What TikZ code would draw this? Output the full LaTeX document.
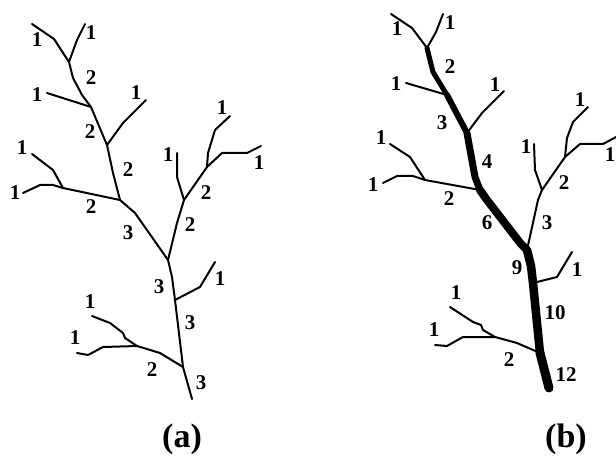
\documentclass[tikz,border=0pt]{standalone}
\usepackage{fontspec}
\setmainfont{Liberation Serif}
\begin{document}
\begin{tikzpicture}[x=1pt,y=-1pt,
  br/.style={line width=2pt,line join=round,line cap=round},
  thk/.style={line cap=round,line join=round},
  num/.style={font=\fontsize{21}{21}\selectfont\bfseries,inner sep=0pt},
  captxt/.style={font=\fontsize{34}{34}\selectfont\bfseries,inner sep=0pt}]
\useasboundingbox (0,0) rectangle (616,465);
% ---------- tree (a) ----------
\coordinate (aT) at (69,62);
\coordinate (aJ1) at (91,107);
\coordinate (aJ2) at (107,145);
\coordinate (aJ3) at (120,200);
\coordinate (aJ4) at (168,260);
\coordinate (aJ5) at (175,300);
\coordinate (aJ6) at (183,367);
\coordinate (aR) at (184,200);
\draw[br] (32,24) -- (54,39) -- (aT);
\draw[br] (85,24) -- (77,40) -- (aT);
\draw[br] (aT) -- (73,78) -- (82,95) -- (aJ1) -- (aJ2) -- (113,173) -- (aJ3) -- (135,213) -- (aJ4) -- (172,277) -- (aJ5) -- (aJ6) -- (192,399);
\draw[br] (47,93) -- (aJ1);
\draw[br] (146,100) -- (123,123) -- (aJ2);
\draw[br] (32,154) -- (53,170) -- (63,188) -- (aJ3);
\draw[br] (23,193) -- (40,185) -- (53,185) -- (63,188);
\draw[br] (177,153) -- (177,177) -- (aR);
\draw[br] (aR) -- (207,167) -- (222,153) -- (247,153) -- (261,146);
\draw[br] (207,167) -- (208,153) -- (215,130) -- (230,116);
\draw[br] (aR) -- (177,223) -- (aJ4);
\draw[br] (aJ5) -- (200,287) -- (215,262);
\draw[br] (92,316) -- (110,323) -- (123,333) -- (125,338) -- (137,346) -- (160,353) -- (aJ6);
\draw[br] (77,353) -- (88,355) -- (103,347) -- (137,346);
\node[num] (a01) at (37,40) {1};
\node[num] (a02) at (91,33) {1};
\node[num] (a03) at (91,78) {2};
\node[num] (a04) at (37,95) {1};
\node[num] (a05) at (136,93) {1};
\node[num] (a06) at (90,132) {2};
\node[num] (a07) at (22,148) {1};
\node[num] (a08) at (128,170) {2};
\node[num] (a09) at (15,193) {1};
\node[num] (a10) at (91,207) {2};
\node[num] (a11) at (128,233) {3};
\node[num] (a12) at (222,108) {1};
\node[num] (a13) at (168,155) {1};
\node[num] (a14) at (259,163) {1};
\node[num] (a15) at (206,193) {2};
\node[num] (a16) at (190,225) {2};
\node[num] (a17) at (159,287) {3};
\node[num] (a18) at (220,279) {1};
\node[num] (a19) at (190,323) {3};
\node[num] (a20) at (90,302) {1};
\node[num] (a21) at (75,338) {1};
\node[num] (a22) at (152,370) {2};
\node[num] (a23) at (201,383) {3};
\node[captxt] (capa) at (182,439) {(a)};
% ---------- tree (b) ----------
\coordinate (bT) at (427,48);
\coordinate (bJ1) at (447,95);
\coordinate (bJ2) at (467,133);
\coordinate (bJ3) at (480,190);
\coordinate (bJ4) at (527,250);
\coordinate (bJ5) at (533,283);
\coordinate (bJ6) at (540,353);
\coordinate (bR) at (542,190);
\draw[br] (391,14) -- (412,28) -- (bT);
\draw[br] (443,14) -- (436,32) -- (bT);
\draw[br] (406,83) -- (bJ1);
\draw[br] (504,91) -- (482,113) -- (bJ2);
\draw[br] (390,144) -- (410,157) -- (425,180) -- (bJ3);
\draw[br] (383,183) -- (397,176) -- (413,176) -- (425,180);
\draw[br] (534,144) -- (535,170) -- (bR);
\draw[br] (bR) -- (565,157) -- (580,144) -- (603,144) -- (618,136);
\draw[br] (565,157) -- (567,138) -- (573,122) -- (588,107);
\draw[br] (bR) -- (538,200) -- (bJ4);
\draw[br] (bJ5) -- (557,277) -- (572,252);
\draw[br] (450,307) -- (473,322) -- (481,325) -- (483,330) -- (495,337) -- (517,343) -- (bJ6);
\draw[br] (435,345) -- (447,346) -- (463,337) -- (495,337);
\draw[thk,line width=5pt] (bT) -- (433,72) -- (bJ1);
\draw[thk,line width=6pt] (bJ1) -- (bJ2);
\draw[thk,line width=7pt] (bJ2) -- (475,177) -- (bJ3);
\draw[thk,line width=8pt] (bJ3) -- (487,200) -- (521,244) -- (bJ4);
\draw[thk,line width=8.5pt] (bJ4) -- (531,266) -- (bJ5) -- (bJ6);
\draw[thk,line width=9pt] (bJ6) -- (549,388);
\node[num] (b01) at (397,29) {1};
\node[num] (b02) at (450,23) {1};
\node[num] (b03) at (450,67) {2};
\node[num] (b04) at (396,84) {1};
\node[num] (b05) at (495,85) {1};
\node[num] (b06) at (442,123) {3};
\node[num] (b07) at (487,162) {4};
\node[num] (b08) at (381,138) {1};
\node[num] (b09) at (373,185) {1};
\node[num] (b10) at (449,199) {2};
\node[num] (b11) at (580,100) {1};
\node[num] (b12) at (526,147) {1};
\node[num] (b13) at (564,183) {2};
\node[num] (b14) at (610,155) {1};
\node[num] (b15) at (487,223) {6};
\node[num] (b16) at (547,223) {3};
\node[num] (b17) at (517,268) {9};
\node[num] (b18) at (577,270) {1};
\node[num] (b19) at (555,313) {10};
\node[num] (b20) at (456,293) {1};
\node[num] (b21) at (434,330) {1};
\node[num] (b22) at (509,360) {2};
\node[num] (b23) at (566,375) {12};
\node[captxt] (capb) at (566,439) {(b)};
\end{tikzpicture}
\end{document}
